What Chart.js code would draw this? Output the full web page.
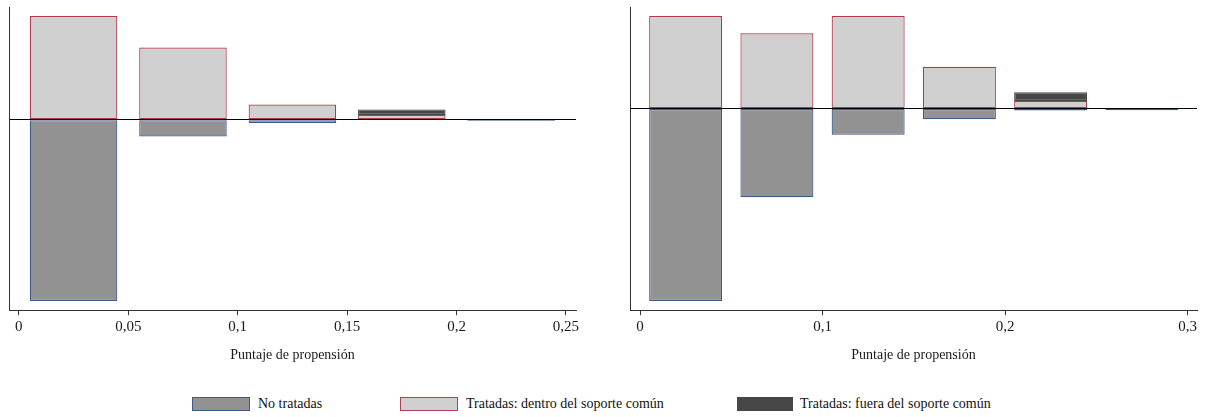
<!DOCTYPE html>
<html><head><meta charset="utf-8">
<script src="https://cdn.jsdelivr.net/npm/chart.js@4.4.1/dist/chart.umd.min.js"></script>
<style>
html,body{margin:0;padding:0;background:#fff;}
body{width:1210px;height:417px;position:relative;overflow:hidden;font-family:"Liberation Serif","Times New Roman",serif;}
#c1{position:absolute;left:0;top:0;}
#c2{position:absolute;left:605px;top:0;}
.box{position:absolute;top:397px;height:14px;box-sizing:border-box;}
.lt{position:absolute;top:395px;font-size:14px;color:#111;line-height:18px;white-space:nowrap;}
</style></head><body>
<canvas id="c1" width="600" height="375"></canvas>
<canvas id="c2" width="605" height="375"></canvas>
<div class="box" style="left:192px;width:58px;background:#929292;border:1px solid #3d5a8a;"></div>
<div class="lt" style="left:258px;">No tratadas</div>
<div class="box" style="left:400px;width:58px;background:#d0d0d0;border:1px solid #b04050;"></div>
<div class="lt" style="left:466px;">Tratadas: dentro del soporte común</div>
<div class="box" style="left:737px;width:56px;background:#474747;"></div>
<div class="lt" style="left:800px;">Tratadas: fuera del soporte común</div>
<script>
// Left panel
const bins1 = [0.025, 0.075, 0.125, 0.175, 0.225];
const untreated1 = [-0.899, -0.083, -0.017, null, -0.006];
const treatedOn1 = [0.514, 0.358, 0.075, 0.023, null];
const treatedOff1 = [null, null, null, 0.028, null];
const xTicks1 = [0, 0.05, 0.1, 0.15, 0.2, 0.25];

// Right panel
const bins2 = [0.025, 0.075, 0.125, 0.175, 0.225, 0.275];
const untreated2 = [-0.603, -0.278, -0.082, -0.033, -0.006, -0.005];
const treatedOn2 = [0.290, 0.236, 0.290, 0.131, 0.024, null];
const treatedOff2 = [null, null, null, null, 0.027, null];
const xTicks2 = [0, 0.1, 0.2, 0.3];

const xTitle = 'Puntaje de propensión';
const FONT = '"Liberation Serif", "Times New Roman", serif';

function pts(xs, ys){ return xs.map((x,i)=>({x:x, y:ys[i]})); }

function makeChart(id, bins, un, on, off, ticks, xr, yr, pad){
  const common = {barPercentage:0.8, categoryPercentage:1.0, borderWidth:1.2, borderSkipped:false, inflateAmount:0};
  return new Chart(document.getElementById(id), {
    type:'bar',
    data:{datasets:[
      Object.assign({label:'No tratadas', data:pts(bins,un), backgroundColor:'#929292', borderColor:'#3d5a8a'}, common),
      Object.assign({label:'Tratadas: dentro del soporte común', data:pts(bins,on), backgroundColor:'#d0d0d0', borderColor:'#b03848'}, common),
      Object.assign({label:'Tratadas: fuera del soporte común', data:pts(bins,off), backgroundColor:'#474747', borderColor:'#474747'}, common)
    ]},
    options:{
      responsive:false, animation:false, devicePixelRatio:1,
      layout:{padding:pad},
      plugins:{legend:{display:false}, tooltip:{enabled:false}},
      scales:{
        x:{type:'linear', stacked:true, offset:false, min:xr[0], max:xr[1],
          afterBuildTicks:(s)=>{ s.ticks = ticks.map(v=>({value:v})); },
          grid:{offset:false, drawOnChartArea:false, drawTicks:true, tickLength:5, color:'#333', lineWidth:1},
          border:{display:true, color:'#333', width:1},
          ticks:{autoSkip:false, maxRotation:0, padding:3, color:'#1a1a1a', font:{family:FONT, size:15},
            callback:(v)=>String(v).replace('.',',')},
          title:{display:true, text:xTitle, color:'#1a1a1a', font:{family:FONT, size:14}, padding:{top:8, bottom:0}}
        },
        y:{type:'linear', stacked:true, min:yr[0], max:yr[1], z:1,
          afterBuildTicks:(s)=>{ s.ticks = [{value:0}]; },
          grid:{drawTicks:false, color:(c)=> (c.tick && c.tick.value===0) ? '#000' : 'rgba(0,0,0,0)', lineWidth:1},
          border:{display:true, color:'#333', width:1},
          ticks:{display:false}
        }
      }
    }
  });
}

makeChart('c1', bins1, untreated1, treatedOn1, treatedOff1, xTicks1, [-0.0045, 0.2546], [-0.945, 0.559], {left:9, right:24, top:7, bottom:11});
makeChart('c2', bins2, untreated2, treatedOn2, treatedOff2, xTicks2, [-0.0055, 0.3052], [-0.632, 0.3186], {left:25, right:13, top:7, bottom:11});
</script>
</body></html>
